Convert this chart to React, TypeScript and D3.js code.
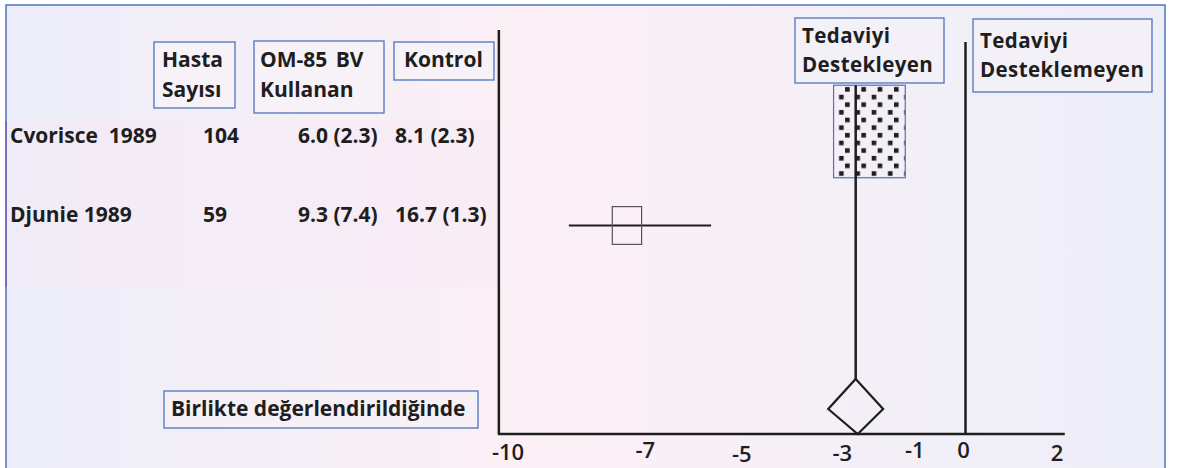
import React from "react";
import * as d3 from "d3";

// study rows
const studies = ["Cvorisce  1989", "Djunie 1989"];
const patients = [104, 59];
const omMean = [6.0, 9.3];
const omSd = [2.3, 7.4];
const ctrlMean = [8.1, 16.7];
const ctrlSd = [2.3, 1.3];
const effect = [-2.1, -7.4];
const ciLow = [-2.9, -8.67];
const ciHigh = [-1.3, -5.56];
const weight = [71, 29];

// pooled result
const pooledEst = -2.4;
const pooledCi = [-3.0, -1.8];

const tickValues = [-10, -7, -5, -3, -1, 0, 2];
const headers = [["Hasta", "Sayısı"], ["OM-85 BV", "Kullanan"], ["Kontrol"]];
const sideLabels = [["Tedaviyi", "Destekleyen"], ["Tedaviyi", "Desteklemeyen"]];
const pooledLabel = "Birlikte değerlendirildiğinde";

const W = 1178;
const H = 468;
const FONT = "'Open Sans', 'DejaVu Sans', sans-serif";
const BLUE = "#4f74bd";
const INK = "#1e1e1e";

export default function App() {
  const x = d3.scaleLinear().domain([-10, 2]).range([508, 1057]);
  const rowY = d3.scaleLinear().domain([0, 1]).range([131.5, 225.5]);
  const textY = d3.scaleLinear().domain([0, 1]).range([143, 222]);
  const boxW = d3.scaleLinear().domain([0, 100]).range([0, 101]);
  const axisY = 434;
  const axisLeft = x(-10.2);
  const axisRight = x(2.17);
  const diamondTop = 379;
  const diamondMid = 409;

  // small hand nudges of the printed tick labels
  const nudgeX = [0, 0, 5, 14, -5, -2, 0];
  const nudgeY = [1, -1, 3, 2, -1, -1, 2];

  const headerBoxes = [
    { x: 154, y: 42, w: 81, h: 66, tx: 162 },
    { x: 254, y: 41, w: 130, h: 72, tx: 260 },
    { x: 394, y: 42, w: 100, h: 38, tx: 404 },
  ];
  const sideBoxes = [
    { x: 795, y: 18, w: 149, h: 65, tx: 802, ty: 43 },
    { x: 973, y: 19, w: 179, h: 73, tx: 980, ty: 48 },
  ];

  const big = 0; // first study carries the dotted marker
  const bw0 = boxW(weight[big]);
  const bh0 = bw0 * 1.29;

  const diamond = [
    [x(pooledEst), diamondTop],
    [x(pooledCi[1]), diamondMid],
    [x(pooledEst) + 2, axisY],
    [x(pooledCi[0]), diamondMid],
  ];

  return (
    <svg width={W} height={H} style={{ position: "absolute", left: 0, top: 0, background: "#fff" }}>
      <defs>
        <linearGradient id="bg" x1="0" x2="1" y1="0" y2="0">
          <stop offset="0" stopColor="#ecedf8" />
          <stop offset="0.45" stopColor="#fcf0f6" />
          <stop offset="0.6" stopColor="#f9eff6" />
          <stop offset="0.85" stopColor="#f0eff8" />
          <stop offset="1" stopColor="#eeeef8" />
        </linearGradient>
        <pattern id="dots" patternUnits="userSpaceOnUse" x={x(effect[big]) - bw0 / 2} y={rowY(big) - bh0 / 2} width={16.3} height={15.3}>
          <rect x={5.5} y={9.5} width={4.6} height={4.6} fill={INK} />
          <rect x={11.5} y={1.8} width={4.6} height={4.6} fill={INK} />
        </pattern>
      </defs>

      <rect x={6} y={5} width={1159} height={H} fill="url(#bg)" stroke={BLUE} strokeWidth={1.5} />
      <rect x={6} y={121} width={491} height={166} fill="#f6e9f3" opacity={0.45} />
      <line x1={6} x2={6} y1={121} y2={287} stroke="#7670c2" strokeWidth={2} />

      {/* header boxes */}
      {headers.map((lines, i) => (
        <g key={"h" + i}>
          <rect x={headerBoxes[i].x} y={headerBoxes[i].y} width={headerBoxes[i].w} height={headerBoxes[i].h}
            fill="#f7f1f8" stroke={BLUE} strokeWidth={1.3} />
          {lines.map((t, j) => (
            <text key={j} x={headerBoxes[i].tx} y={67 + j * 30} fontFamily={FONT} fontWeight={700} fontSize={21}
              wordSpacing={i === 1 ? 3 : 0} fill={INK}>{t}</text>
          ))}
        </g>
      ))}

      {sideLabels.map((lines, i) => (
        <g key={"s" + i}>
          <rect x={sideBoxes[i].x} y={sideBoxes[i].y} width={sideBoxes[i].w} height={sideBoxes[i].h}
            fill="#f3f0f8" stroke={BLUE} strokeWidth={1.3} />
          {lines.map((t, j) => (
            <text key={j} x={sideBoxes[i].tx} y={sideBoxes[i].ty + j * 29} fontFamily={FONT} fontWeight={700} fontSize={20.5}
              letterSpacing={0.4} fill={INK}>{t}</text>
          ))}
        </g>
      ))}

      {/* table rows */}
      {studies.map((s, i) => (
        <g key={"r" + i} fontFamily={FONT} fontWeight={700} fontSize={21} fill={INK}>
          <text x={10} y={textY(i)} style={{ whiteSpace: "pre" }}>{s}</text>
          <text x={203} y={textY(i)}>{patients[i]}</text>
          <text x={298} y={textY(i)}>{`${omMean[i].toFixed(1)} (${omSd[i].toFixed(1)})`}</text>
          <text x={395} y={textY(i)}>{`${ctrlMean[i].toFixed(1)} (${ctrlSd[i].toFixed(1)})`}</text>
        </g>
      ))}

      {/* pooled label */}
      <rect x={164} y={391} width={314} height={37} fill="#f7f0f6" stroke={BLUE} strokeWidth={1.3} />
      <text x={171} y={416} fontFamily={FONT} fontWeight={700} fontSize={21} fill={INK}>{pooledLabel}</text>

      {/* axis frame */}
      <line x1={axisLeft} x2={axisLeft} y1={30} y2={axisY} stroke={INK} strokeWidth={2.5} />
      <line x1={x(0)} x2={x(0)} y1={42} y2={axisY} stroke={INK} strokeWidth={2.5} />
      <line x1={axisLeft - 1} x2={axisRight} y1={axisY} y2={axisY} stroke={INK} strokeWidth={2.5} />

      {/* study markers */}
      {effect.map((e, i) => {
        const w = boxW(weight[i]);
        const h = w * 1.29;
        return i === big ? (
          <rect key={"m" + i} x={x(e) - w / 2} y={rowY(i) - h / 2} width={w} height={h}
            fill="url(#dots)" stroke={BLUE} strokeWidth={1.2} />
        ) : (
          <g key={"m" + i}>
            <line x1={x(ciLow[i])} x2={x(ciHigh[i])} y1={rowY(i)} y2={rowY(i)} stroke={INK} strokeWidth={2.2} />
            <rect x={x(e) - w / 2} y={rowY(i) - h / 2} width={w} height={h} fill="none" stroke="#555" strokeWidth={1.2} />
          </g>
        );
      })}

      {/* pooled line and diamond */}
      <line x1={x(pooledEst)} x2={x(pooledEst)} y1={rowY(big) - bh0 / 2} y2={diamondTop} stroke={INK} strokeWidth={2.5} />
      <polygon points={diamond.map((p) => p.join(",")).join(" ")} fill="none" stroke={INK} strokeWidth={2.2} />

      {/* tick labels */}
      {tickValues.map((t, i) => (
        <text key={"t" + i} x={x(t) + nudgeX[i]} y={459 + nudgeY[i]} textAnchor="middle"
          fontFamily={FONT} fontWeight={600} fontSize={22} fill={INK}>{t}</text>
      ))}
    </svg>
  );
}
